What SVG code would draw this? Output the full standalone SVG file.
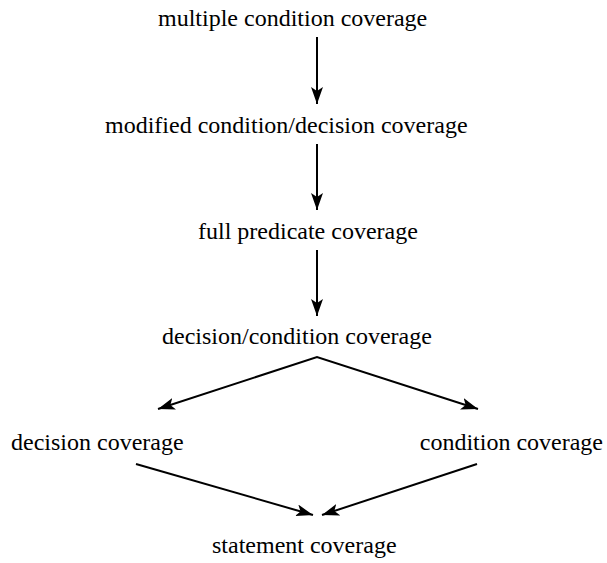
<svg xmlns="http://www.w3.org/2000/svg" width="607" height="563" viewBox="0 0 607 563">
<style>
text{font-family:"Liberation Serif","Times New Roman",serif;font-size:24px;fill:#000}
.c{stroke:#000;stroke-width:2;fill:none}
</style>
<defs>
<marker id="ah" viewBox="0 0 17 12" refX="17" refY="6" markerWidth="17" markerHeight="12" markerUnits="userSpaceOnUse" orient="auto-start-reverse">
<path d="M0,0 L17,6 L0,12 L4,6 Z" fill="#000"/>
</marker>
</defs>
<rect width="607" height="563" fill="#fff"/>
<g id="connectors">
<line class="c" x1="317" y1="37" x2="317" y2="104" marker-end="url(#ah)"/>
<line class="c" x1="317" y1="144" x2="317" y2="210" marker-end="url(#ah)"/>
<line class="c" x1="317" y1="250" x2="317" y2="316" marker-end="url(#ah)"/>
<polyline class="c" points="158,409 317,357 478,409" marker-start="url(#ah)" marker-end="url(#ah)"/>
<line class="c" x1="136" y1="464" x2="313" y2="515" marker-end="url(#ah)"/>
<line class="c" x1="477" y1="464" x2="322" y2="515" marker-end="url(#ah)"/>
</g>
<g id="n1"><text x="158" y="26">multiple condition coverage</text></g>
<g id="n2"><text x="105" y="133">modified condition/decision coverage</text></g>
<g id="n3"><text x="198" y="239">full predicate coverage</text></g>
<g id="n4"><text x="162" y="344">decision/condition coverage</text></g>
<g id="n5"><text x="11" y="450">decision coverage</text></g>
<g id="n6"><text x="603" y="450" text-anchor="end">condition coverage</text></g>
<g id="n7"><text x="212" y="553">statement coverage</text></g>
</svg>
